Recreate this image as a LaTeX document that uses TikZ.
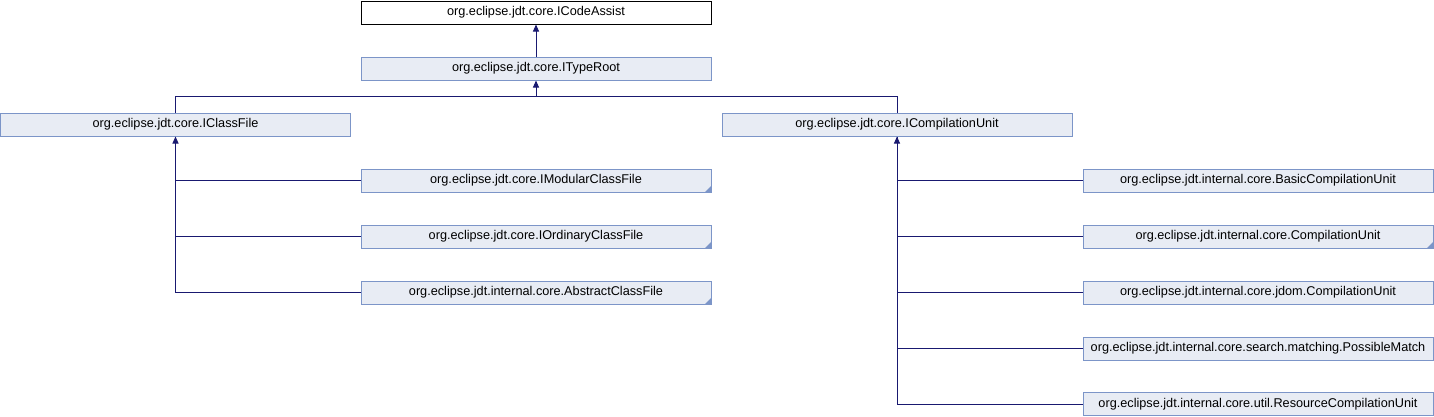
\documentclass[tikz,border=0pt]{standalone}
\usepackage{fontspec}
\setmainfont{Liberation Sans}
\usetikzlibrary{arrows.meta}
\definecolor{boxfill}{HTML}{E8ECF4}
\definecolor{boxline}{HTML}{7C95C8}
\definecolor{edgecol}{HTML}{191970}
\tikzset{
  cls/.style={draw=boxline, fill=boxfill, line width=1pt, minimum width=350pt, minimum height=23pt, inner sep=0pt, font=\fontsize{12.7}{14}\selectfont},
  top/.style={cls, draw=black, fill=white},
  fold/.style={path picture={\fill[boxline] (path picture bounding box.south east) -- ++(-6pt,0pt) -- ++(6pt,6pt) -- cycle;}},
  edge/.style={draw=edgecol, line width=1pt},
  inh/.style={edge, -{Triangle[length=7pt,width=6pt]}}
}
\begin{document}
\begin{tikzpicture}[x=1pt,y=-1pt]
\useasboundingbox (0,0) rectangle (1434,416);
\node[top] (ca) at (536,12.5) {org.eclipse.jdt.core.ICodeAssist};
\node[cls] (tr) at (536,68.5) {org.eclipse.jdt.core.ITypeRoot};
\node[cls] (cf) at (175.5,124.5) {org.eclipse.jdt.core.IClassFile};
\node[cls] (cu) at (897,124.5) {org.eclipse.jdt.core.ICompilationUnit};
\node[cls,fold] (mcf) at (536,180.5) {org.eclipse.jdt.core.IModularClassFile};
\node[cls,fold] (ocf) at (536,236.5) {org.eclipse.jdt.core.IOrdinaryClassFile};
\node[cls,fold] (acf) at (536,292.5) {org.eclipse.jdt.internal.core.AbstractClassFile};
\node[cls] (bcu) at (1258,180.5) {org.eclipse.jdt.internal.core.BasicCompilationUnit};
\node[cls,fold] (icu) at (1258,236.5) {org.eclipse.jdt.internal.core.CompilationUnit};
\node[cls] (jcu) at (1258,292.5) {org.eclipse.jdt.internal.core.jdom.CompilationUnit};
\node[cls] (pm) at (1258,348.5) {org.eclipse.jdt.internal.core.search.matching.PossibleMatch};
\node[cls] (rcu) at (1258,404) {org.eclipse.jdt.internal.core.util.ResourceCompilationUnit};
\coordinate (j1) at (536,96);
\draw[inh] (tr.north) -- (ca.south);
\draw[inh] (j1) -- (tr.south);
\draw[edge] (cf.north) |- (j1);
\draw[edge] (cu.north) |- (j1);
\draw[edge] (mcf.west) -| (cf.south);
\draw[edge] (ocf.west) -| (cf.south);
\draw[inh] (acf.west) -| (cf.south);
\draw[edge] (bcu.west) -| (cu.south);
\draw[edge] (icu.west) -| (cu.south);
\draw[edge] (jcu.west) -| (cu.south);
\draw[edge] (pm.west) -| (cu.south);
\draw[inh] (rcu.west) -| (cu.south);
\end{tikzpicture}
\end{document}
